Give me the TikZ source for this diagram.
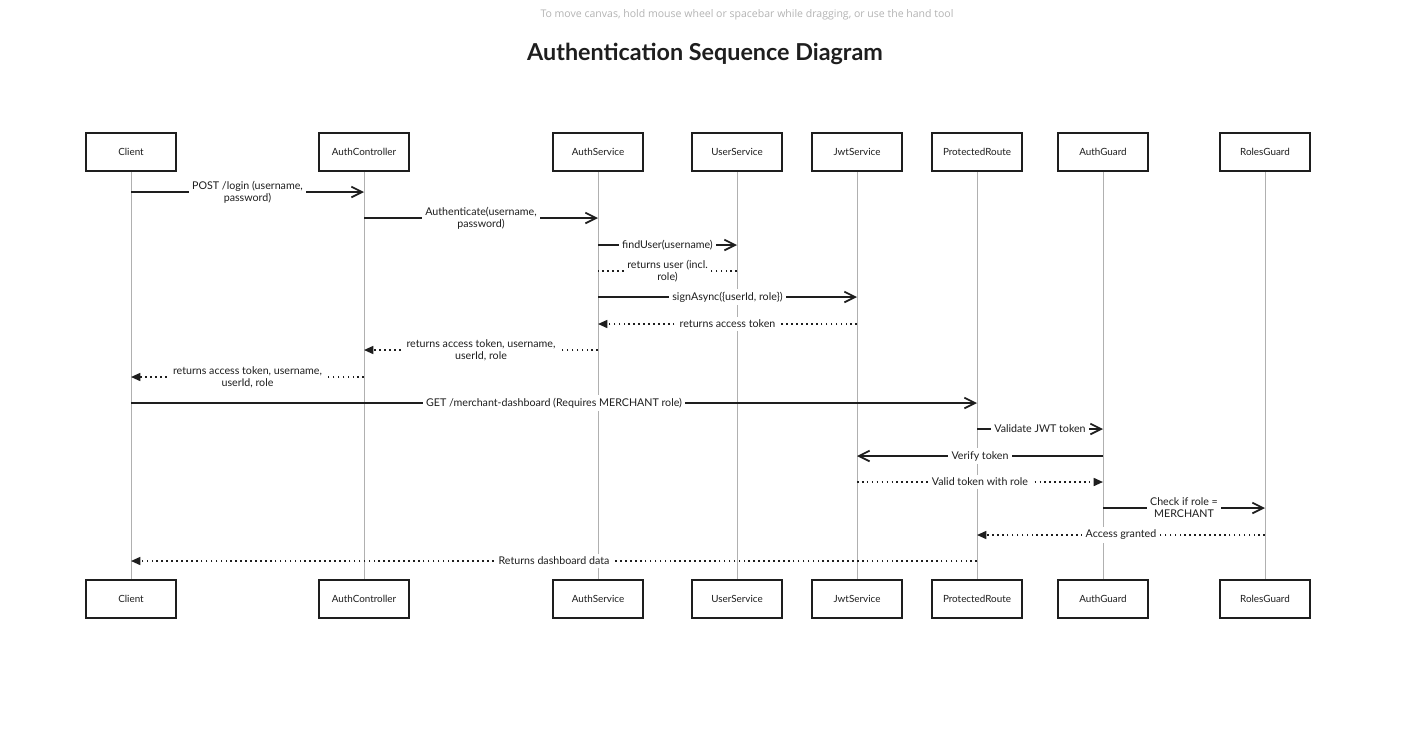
\documentclass[tikz,border=0pt]{standalone}
\usepackage{fontspec}
\setmainfont{Lato}
\newfontfamily\hintfont{Open Sans}
\usetikzlibrary{arrows.meta}
\definecolor{ink}{HTML}{1E1E1E}
\definecolor{lifegray}{HTML}{B0B0B0}
\definecolor{hintgray}{HTML}{B4B4B4}
\newcommand\msg[5]{\draw[#1] (#2 |- 0,#4) -- node[lbl]{#5} (#3 |- 0,#4);}
\begin{document}
\begin{tikzpicture}[x=0.75pt,y=-0.75pt,
  actor/.style={draw=ink, line width=1.3pt, minimum width=68pt, minimum height=29pt,
    font=\fontsize{7.4}{8}\selectfont, inner sep=0, text=ink, fill=white},
  life/.style={draw=lifegray, line width=0.7pt},
  call/.style={draw=ink, line width=1.5pt, -{Straight Barb[length=8pt,width=8pt,line width=1.3pt]}},
  reply/.style={draw=ink, line width=1.2pt, dash pattern=on 1.2pt off 2.5pt, -{Triangle[length=7pt,width=6pt]}},
  replyplain/.style={draw=ink, line width=1.2pt, dash pattern=on 1.2pt off 2.5pt},
  lbl/.style={fill=white, font=\fontsize{8}{9}\selectfont, align=center, inner sep=2.5pt, text=ink},
]
\useasboundingbox[fill=white] (0,0) rectangle (1410,729);

\node[font=\hintfont\fontsize{7.9}{9}\selectfont, text=hintgray] (hint) at (747,15)
  {To move canvas, hold mouse wheel or spacebar while dragging, or use the hand tool};
\node[font=\fontsize{17.5}{20}\selectfont\bfseries, text=ink] (title) at (705,54)
  {Authentication Sequence Diagram};

% participants
\foreach \n/\x/\t in {C/131/Client, AC/364/AuthController, AS/598/AuthService,
  US/737/UserService, JS/857/JwtService, PR/977/ProtectedRoute, AG/1103/AuthGuard, RG/1265/RolesGuard}{
  \node[actor] (t\n) at (\x,152) {\t};
  \node[actor] (b\n) at (\x,599) {\t};
  \draw[life] (t\n.south) -- (b\n.north);
}

% messages
\msg{call}{tC}{tAC}{192}{POST /login (username,\\ password)}
\msg{call}{tAC}{tAS}{218}{Authenticate(username,\\ password)}
\msg{call}{tAS}{tUS}{245}{findUser(username)}
\msg{replyplain}{tUS}{tAS}{271}{returns user (incl.\\ role)}
\msg{call}{tAS}{tJS}{297}{signAsync(\{userId, role\})}
\msg{reply}{tJS}{tAS}{324}{returns access token}
\msg{reply}{tAS}{tAC}{350}{returns access token, username,\\ userId, role}
\msg{reply}{tAC}{tC}{377}{returns access token, username,\\ userId, role}
\msg{call}{tC}{tPR}{403}{GET /merchant-dashboard (Requires MERCHANT role)}
\msg{call}{tPR}{tAG}{429}{Validate JWT token}
\msg{call}{tAG}{tJS}{456}{Verify token}
\msg{reply}{tJS}{tAG}{482}{Valid token with role}
\msg{call}{tAG}{tRG}{508}{Check if role =\\ MERCHANT}
\msg{reply}{tRG}{tPR}{535}{Access granted}
\msg{reply}{tPR}{tC}{561}{Returns dashboard data}
\end{tikzpicture}
\end{document}
